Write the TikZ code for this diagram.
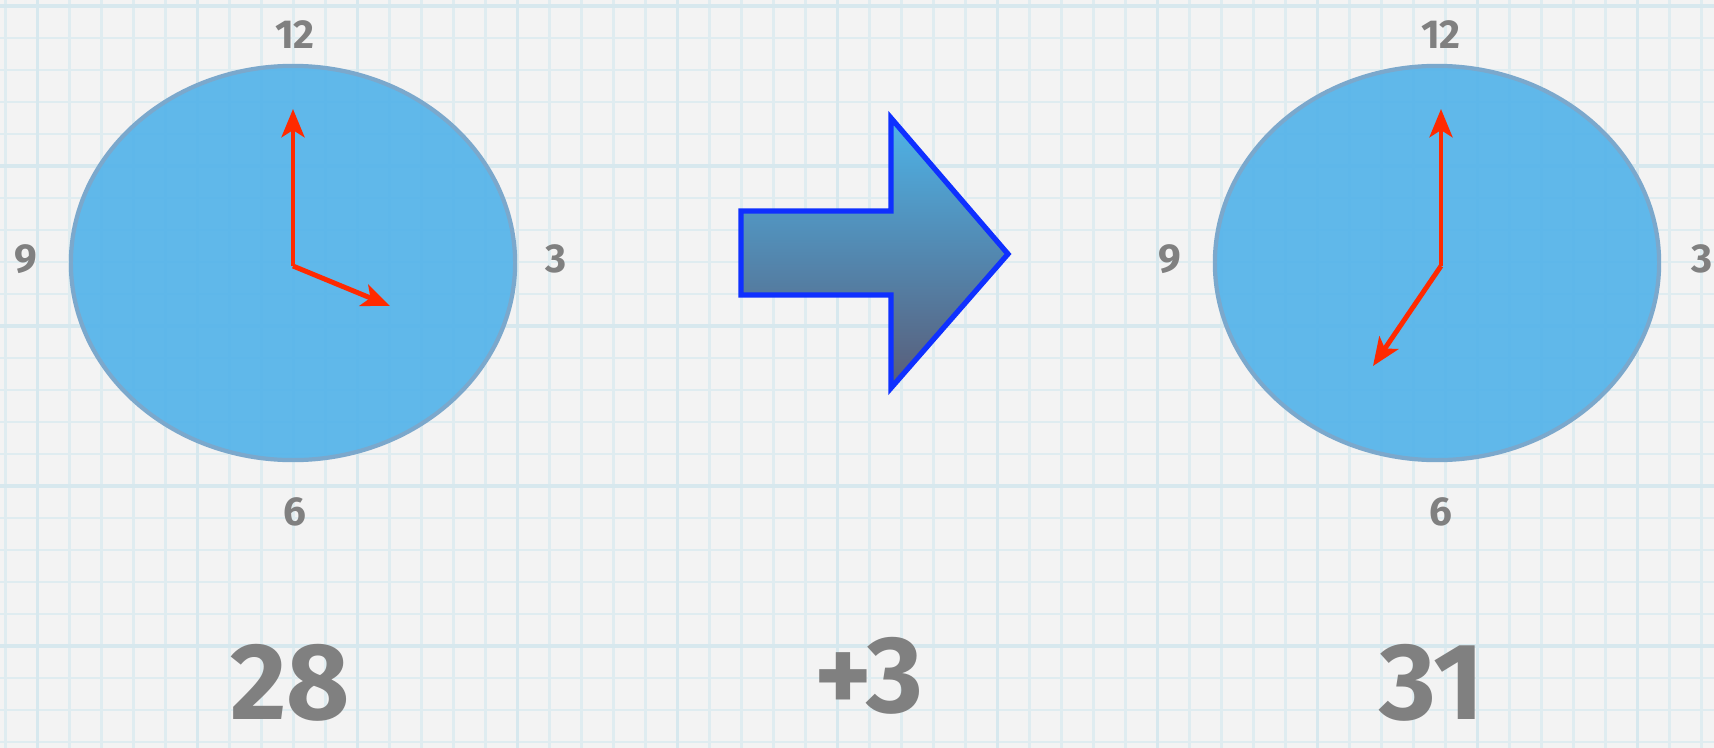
\documentclass[tikz,border=0pt]{standalone}
\usepackage{fontspec}
\setmainfont{Fira Sans}
\usetikzlibrary{shapes.geometric,arrows.meta}
\definecolor{paper}{HTML}{F3F3F3}
\definecolor{gridblue}{HTML}{DFECF0}
\definecolor{gridmajor}{HTML}{D7E8EE}
\definecolor{faceblue}{HTML}{55B4EA}
\definecolor{faceedge}{HTML}{7BA8CC}
\definecolor{handred}{HTML}{FF2A00}
\definecolor{numgray}{HTML}{808080}
\definecolor{arrowedge}{HTML}{0F30FF}
\definecolor{arrowtop}{HTML}{4DB4E9}
\definecolor{arrowbot}{HTML}{595C77}
\begin{document}
\begin{tikzpicture}[x=0.01cm,y=-0.01cm,
  face/.style={ellipse,draw=faceedge,line width=1.2pt,fill=faceblue,fill opacity=0.93,draw opacity=1,minimum width=4.44cm,minimum height=3.94cm,inner sep=0pt},
  hour/.style={font=\fontsize{11.5}{13}\selectfont\bfseries,text=numgray,inner sep=0pt},
  total/.style={font=\fontsize{31}{36}\selectfont\bfseries,text=numgray,inner sep=0pt},
  hand/.style={draw=handred,line width=1.4pt,-{Stealth[length=8pt,width=6.5pt,inset=2pt]}}]
  \useasboundingbox (0,0) rectangle (1714,748);
  \fill[paper] (0,0) rectangle (1714,748);
  % squared paper
  \foreach \k in {0,...,53} \draw[gridblue,line width=0.8pt] (5.7+32*\k,0) -- (5.7+32*\k,748);
  \foreach \k in {0,...,23} \draw[gridblue,line width=0.8pt] (0,6+32*\k) -- (1714,6+32*\k);
  \foreach \k in {1,6,...,51} \draw[gridmajor,line width=1pt] (5.7+32*\k,0) -- (5.7+32*\k,748);
  \foreach \k in {0,5,...,20} \draw[gridmajor,line width=1pt] (0,6+32*\k) -- (1714,6+32*\k);
  % left clock
  \node[face] (faceL) at (293,263) {};
  \node[hour] (twelveL) at (295,35) {12};
  \node[hour] (nineL) at (26,259) {9};
  \node[hour] (threeL) at (556,259) {3};
  \node[hour] (sixL) at (295,512) {6};
  \coordinate (pivotL) at (293,266);
  \coordinate (minL) at (293,109);
  \coordinate (hrL) at (390,306);
  \draw[hand] (pivotL) -- (minL);
  \draw[hand] (pivotL) -- (hrL);
  % right clock
  \node[face] (faceR) at (1437,263) {};
  \node[hour] (twelveR) at (1441,35) {12};
  \node[hour] (nineR) at (1170,259) {9};
  \node[hour] (threeR) at (1702,259) {3};
  \node[hour] (sixR) at (1441,512) {6};
  \coordinate (pivotR) at (1441,266);
  \coordinate (minR) at (1441,109);
  \coordinate (hrR) at (1373,366);
  \draw[hand] (pivotR) -- (minR);
  \draw[hand] (pivotR) -- (hrR);
  % the +3 step
  \draw[arrowedge,line width=1.5pt,line join=miter,top color=arrowtop,bottom color=arrowbot]
    (741,211) -- (891,211) -- (891,118) -- (1008,254) -- (891,388) -- (891,295) -- (741,295) -- cycle;
  \node[total] (before) at (290,683) {28};
  \node[total] (step) at (869,676) {+3};
  \node[total] (after) at (1432,683) {31};
\end{tikzpicture}
\end{document}
